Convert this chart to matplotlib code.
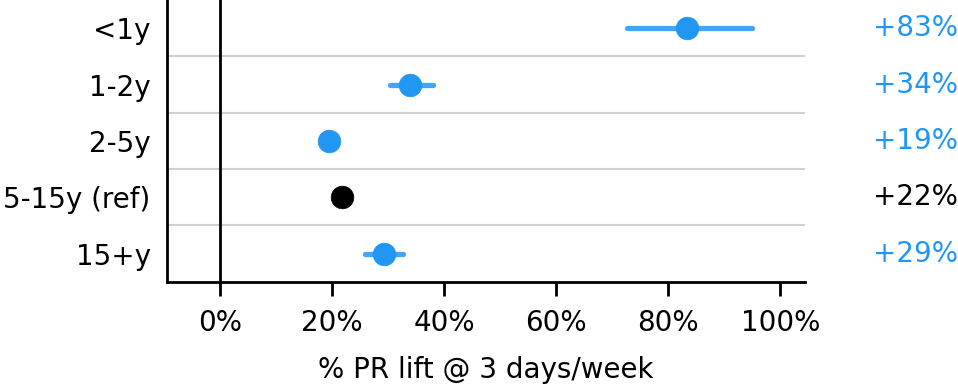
import numpy as np
import matplotlib
matplotlib.use("Agg")
import matplotlib.pyplot as plt

groups = ['<1y', '1-2y', '2-5y', '5-15y (ref)', '15+y']
lift = [83.3, 34.0, 19.5, 21.7, 29.2]
ci_low = [72.6, 30.4, 18.5, 21.0, 25.9]
ci_high = [95.0, 38.1, 20.5, 22.4, 32.7]
labels = ['+83%', '+34%', '+19%', '+22%', '+29%']
is_ref = [False, False, False, True, False]

blue = '#2196F3'
blue_light = '#42A5F5'

plt.rcParams['font.family'] = 'DejaVu Sans'
plt.rcParams['font.size'] = 20

fig = plt.figure(figsize=(9.58, 3.84), dpi=100)
ax = fig.add_axes([166.7/958, 1 - 281.7/384, (805 - 166.7)/958, 281.7/384])

y = np.arange(len(groups))
for i in range(len(groups)):
    c = 'black' if is_ref[i] else blue
    lc = 'black' if is_ref[i] else blue_light
    ax.plot([ci_low[i], ci_high[i]], [y[i], y[i]], color=lc, lw=3.8,
            solid_capstyle='round', zorder=3)
    ax.plot(lift[i], y[i], 'o', color=c, ms=16.3, mew=0.5, zorder=4)
    ax.text(116.6, y[i], labels[i], color=c, va='center', ha='left',
            fontsize=20, clip_on=False)

for k in range(len(groups) - 1):
    ax.axhline(k + 0.5, color='#d0d0d0', lw=1.5, zorder=1)
ax.axvline(0, color='black', lw=2, zorder=2)

ax.set_xlim(-9.5, 104.4)
ax.set_ylim(len(groups) - 0.5, -0.5)
ax.set_yticks(y)
ax.set_yticklabels(groups)
ax.set_xticks([0, 20, 40, 60, 80, 100])
ax.set_xticklabels(['0%', '20%', '40%', '60%', '80%', '100%'])
ax.tick_params(axis='y', length=0, pad=11.5)
ax.tick_params(axis='x', length=10, width=2, pad=9.5)
for s in ['top', 'right']:
    ax.spines[s].set_visible(False)
for s in ['left', 'bottom']:
    ax.spines[s].set_linewidth(2)
ax.set_xlabel('% PR lift @ 3 days/week', labelpad=14)

fig.savefig('out.png', dpi=100)
